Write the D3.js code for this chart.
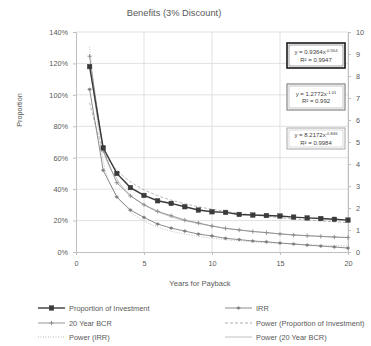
<!DOCTYPE html>
<html>
<head>
<meta charset="utf-8">
<script src="https://cdn.jsdelivr.net/npm/d3@7"></script>
<style>
  body { margin: 0; background: #fff; }
  svg { display: block; font-family: "Liberation Sans", Arial, sans-serif; }
</style>
</head>
<body>
<div id="chart"></div>
<script>
// data
const years = [1, 2, 3, 4, 5, 6, 7, 8, 9, 10, 11, 12, 13, 14, 15, 16, 17, 18, 19, 20];
const proportion = [1.18, 0.663, 0.50, 0.41, 0.36, 0.326, 0.309, 0.288, 0.267, 0.256,
  0.252, 0.239, 0.235, 0.232, 0.229, 0.222, 0.217, 0.213, 0.208, 0.203];
const irr = [1.035, 0.52, 0.35, 0.267, 0.22, 0.178, 0.152, 0.133, 0.114, 0.102,
  0.087, 0.079, 0.07, 0.065, 0.057, 0.051, 0.044, 0.038, 0.032, 0.025];
const bcr20 = [8.9, 4.6, 3.15, 2.55, 2.15, 1.85, 1.65, 1.45, 1.32, 1.18,
  1.07, 1.0, 0.93, 0.88, 0.82, 0.77, 0.74, 0.71, 0.68, 0.66];

const xTicks = [0, 5, 10, 15, 20];
const leftTicks = [0, 0.2, 0.4, 0.6, 0.8, 1.0, 1.2, 1.4];
const rightTicks = [0, 1, 2, 3, 4, 5, 6, 7, 8, 9, 10];

const equations = [
  { coef: "y = 0.9364x", exp: "-0.554", r2: "0.9947" },
  { coef: "y = 1.2772x", exp: "-1.01", r2: "0.992" },
  { coef: "y = 8.2172x", exp: "-0.846", r2: "0.9984" }
];

const width = 371, height = 346;
const margin = { top: 32, right: 23, bottom: 94, left: 76 };
const innerW = width - margin.left - margin.right;
const innerH = height - margin.top - margin.bottom;
const textCol = "#595959";

const svg = d3.select("#chart").append("svg")
  .attr("width", width).attr("height", height);

const g = svg.append("g")
  .attr("transform", `translate(${margin.left},${margin.top})`);

const x = d3.scaleLinear().domain([0, 20]).range([0, innerW]);
const yL = d3.scaleLinear().domain([0, 1.4]).range([innerH, 0]);
const yR = d3.scaleLinear().domain([0, 10]).range([innerH, 0]);

// gridlines
g.append("g").selectAll("line").data(leftTicks.slice(1)).join("line")
  .attr("x1", 0).attr("x2", innerW)
  .attr("y1", d => yL(d)).attr("y2", d => yL(d))
  .attr("stroke", "#d9d9d9").attr("stroke-width", 0.8);
g.append("g").selectAll("line").data(xTicks.slice(1)).join("line")
  .attr("x1", d => x(d)).attr("x2", d => x(d))
  .attr("y1", 0).attr("y2", innerH)
  .attr("stroke", "#d9d9d9").attr("stroke-width", 0.8);

// axes
const xAxis = g.append("g").attr("transform", `translate(0,${innerH})`)
  .call(d3.axisBottom(x).tickValues(xTicks).tickSize(3).tickFormat(d3.format("d")));
const leftAxis = g.append("g")
  .call(d3.axisLeft(yL).tickValues(leftTicks).tickSize(3).tickFormat(d3.format(".0%")));
const rightAxis = g.append("g").attr("transform", `translate(${innerW},0)`)
  .call(d3.axisRight(yR).tickValues(rightTicks).tickSize(3));
[xAxis, leftAxis, rightAxis].forEach(a => {
  a.select(".domain").attr("stroke", "#bfbfbf");
  a.selectAll(".tick line").attr("stroke", "#bfbfbf");
  a.selectAll("text").attr("fill", textCol).attr("font-size", "7.3px");
});
xAxis.selectAll("text").attr("dy", "1.1em");
leftAxis.selectAll("text").attr("x", -8);
rightAxis.selectAll("text").attr("x", 8);

// power trendlines fitted (log-log least squares) from the series
function powerFit(xs, ys) {
  const lx = xs.map(Math.log), ly = ys.map(Math.log);
  const mx = d3.mean(lx), my = d3.mean(ly);
  const b = d3.sum(lx, (v, i) => (v - mx) * (ly[i] - my)) / d3.sum(lx, v => (v - mx) ** 2);
  const a = Math.exp(my - b * mx);
  return xs.map(v => a * Math.pow(v, b));
}

const series = [
  { name: "Proportion of Investment", values: proportion, y: yL, stroke: "#3a3a3a", sw: 1.4, marker: "square" },
  { name: "IRR", values: irr, y: yL, stroke: "#7f7f7f", sw: 0.9, marker: "dash" },
  { name: "20 Year BCR", values: bcr20, y: yR, stroke: "#8c8c8c", sw: 0.9, marker: "plus" }
];
const trends = [
  { name: "Power (Proportion of Investment)", src: series[0], dash: "3,2", stroke: "#9a9a9a" },
  { name: "Power (IRR)", src: series[1], dash: "1,1.5", stroke: "#a6a6a6" },
  { name: "Power (20 Year BCR)", src: series[2], dash: null, stroke: "#b0b0b0" }
];

trends.forEach(t => {
  const fit = powerFit(years, t.src.values);
  g.append("path")
    .datum(years.map((v, i) => [v, fit[i]]))
    .attr("fill", "none").attr("stroke", t.stroke).attr("stroke-width", 0.7)
    .attr("stroke-dasharray", t.dash)
    .attr("d", d3.line().x(d => x(d[0])).y(d => t.src.y(d[1])).curve(d3.curveMonotoneX));
});

function drawMarker(sel, type, color) {
  if (type === "square") {
    sel.append("rect").attr("x", -2.3).attr("y", -2.3).attr("width", 4.6).attr("height", 4.6)
      .attr("fill", "#3a3a3a").attr("stroke", "#3a3a3a").attr("stroke-width", 0.4);
  } else if (type === "plus") {
    sel.append("path").attr("d", "M-2.2,0H2.2M0,-2.2V2.2")
      .attr("stroke", color).attr("stroke-width", 0.9);
  } else {
    sel.append("path").attr("d", "M-2,0L0,-1.6L2,0L0,1.6Z")
      .attr("fill", color).attr("stroke", color).attr("stroke-width", 0.4);
  }
}

series.slice().reverse().forEach(s => {
  g.append("path")
    .datum(years.map((v, i) => [v, s.values[i]]))
    .attr("fill", "none").attr("stroke", s.stroke).attr("stroke-width", s.sw)
    .attr("d", d3.line().x(d => x(d[0])).y(d => s.y(d[1])));
  g.append("g").selectAll("g").data(years).join("g")
    .attr("transform", (d, i) => `translate(${x(d)},${s.y(s.values[i])})`)
    .each(function () { drawMarker(d3.select(this), s.marker, s.stroke); });
});

// equation boxes
const boxes = [
  { eq: equations[0], y: 11, h: 25, border: "#1a1a1a", sw: 1.6 },
  { eq: equations[1], y: 52, h: 26, border: "#7a7a7a", sw: 1.1 },
  { eq: equations[2], y: 96, h: 21, border: "#a6a6a6", sw: 1.0 }
];
boxes.forEach(b => {
  const bx = 211, bw = 58;
  const bg = g.append("g").attr("transform", `translate(${bx},${b.y})`);
  bg.append("rect").attr("width", bw).attr("height", b.h)
    .attr("fill", "#fff").attr("stroke", b.border).attr("stroke-width", b.sw);
  bg.append("rect").attr("x", 2).attr("y", 2).attr("width", bw - 4).attr("height", b.h - 4)
    .attr("fill", "none").attr("stroke", b.border).attr("stroke-width", 0.4);
  const t1 = bg.append("text").attr("x", bw / 2).attr("y", b.h / 2 - 1.5)
    .attr("text-anchor", "middle").attr("font-size", "6px").attr("fill", "#404040");
  t1.append("tspan").text(b.eq.coef);
  t1.append("tspan").attr("dy", -2).attr("font-size", "4.2px").text(b.eq.exp);
  bg.append("text").attr("x", bw / 2).attr("y", b.h / 2 + 6)
    .attr("text-anchor", "middle").attr("font-size", "6px").attr("fill", "#404040")
    .text("R² = " + b.eq.r2);
});

// titles
svg.append("text").attr("x", 174).attr("y", 16).attr("text-anchor", "middle")
  .attr("font-size", "9.3px").attr("fill", textCol).text("Benefits (3% Discount)");
svg.append("text").attr("x", 200).attr("y", 286).attr("text-anchor", "middle")
  .attr("font-size", "7.6px").attr("fill", textCol).text("Years for Payback");
svg.append("text").attr("transform", "translate(22,110) rotate(-90)")
  .attr("text-anchor", "middle").attr("font-size", "7.3px").attr("fill", textCol).text("Proportion");

// legend
const legendItems = [
  { label: series[0].name, s: series[0], col: 0, row: 0 },
  { label: series[1].name, s: series[1], col: 1, row: 0 },
  { label: series[2].name, s: series[2], col: 0, row: 1 },
  { label: trends[0].name, t: trends[0], col: 1, row: 1 },
  { label: trends[1].name, t: trends[1], col: 0, row: 2 },
  { label: trends[2].name, t: trends[2], col: 1, row: 2 }
];
const colX = [38, 225], rowY = [308, 323, 337];
legendItems.forEach(it => {
  const lg = svg.append("g").attr("transform", `translate(${colX[it.col]},${rowY[it.row]})`);
  if (it.s) {
    lg.append("line").attr("x1", 0).attr("x2", 27).attr("stroke", it.s.stroke).attr("stroke-width", it.s.sw);
    drawMarker(lg.append("g").attr("transform", "translate(13.5,0)"), it.s.marker, it.s.stroke);
  } else {
    lg.append("line").attr("x1", 0).attr("x2", 27).attr("stroke", it.t.stroke)
      .attr("stroke-width", 0.8).attr("stroke-dasharray", it.t.dash);
  }
  lg.append("text").attr("x", 31).attr("y", 2.5).attr("font-size", "7.4px")
    .attr("fill", textCol).text(it.label);
});
</script>
</body>
</html>
